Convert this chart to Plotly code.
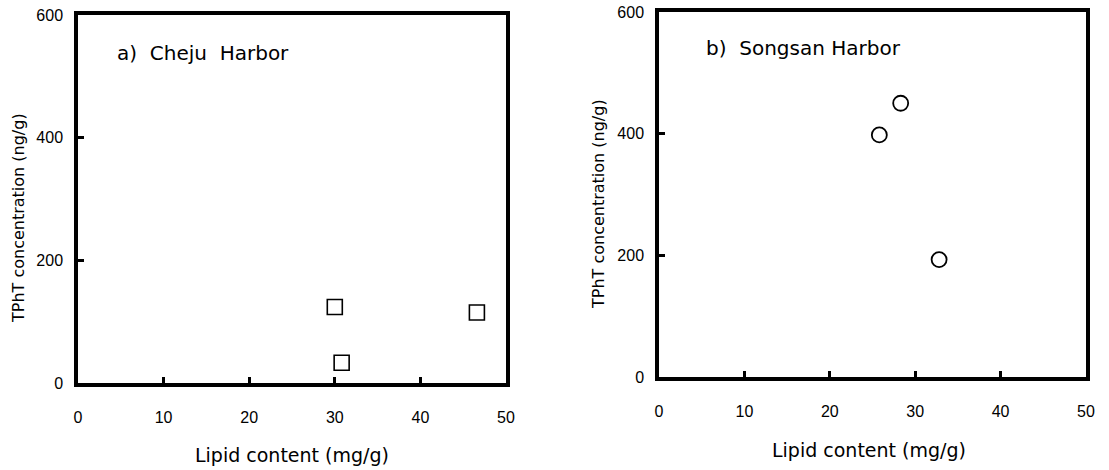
import plotly.graph_objects as go

# Data
cheju_lipid = [30.0, 30.8, 46.6]
cheju_tpht = [124, 33, 115]
songsan_lipid = [25.8, 28.3, 32.8]
songsan_tpht = [398, 450, 193]

x_ticks = [0, 10, 20, 30, 40, 50]
y_ticks = [0, 200, 400, 600]

W, H = 1109, 470
TICK_FONT = "Liberation Sans, Arial, sans-serif"
TEXT_FONT = "DejaVu Sans, Verdana, sans-serif"

def px(x):
    return x / W

def py(y):
    return 1 - y / H

fig = go.Figure()
fig.add_trace(go.Scatter(
    x=cheju_lipid, y=cheju_tpht, mode="markers", xaxis="x", yaxis="y",
    marker=dict(symbol="square-open", size=15, color="black", line=dict(width=1.6)),
    showlegend=False))
fig.add_trace(go.Scatter(
    x=songsan_lipid, y=songsan_tpht, mode="markers", xaxis="x2", yaxis="y2",
    marker=dict(symbol="circle-open", size=15, color="black", line=dict(width=1.8)),
    showlegend=False))

axis_common = dict(
    showline=True, linecolor="black", linewidth=3.5, mirror=True, automargin=False,
    showgrid=False, zeroline=False, ticks="inside", ticklen=6, tickwidth=3,
    tickcolor="black", tickfont=dict(family=TICK_FONT, size=16, color="black"),
    ticklabeloverflow="allow",
)

fig.update_layout(
    width=W, height=H,
    margin=dict(l=0, r=0, t=0, b=0),
    paper_bgcolor="white", plot_bgcolor="white",
    xaxis=dict(domain=[px(78), px(506)], range=[0, 50], tickvals=x_ticks,
               anchor="y", ticklabelstandoff=17, **axis_common),
    yaxis=dict(domain=[py(383), py(15)], range=[0, 600], tickvals=y_ticks,
               anchor="x", ticklabelstandoff=8, **axis_common),
    xaxis2=dict(domain=[px(659), px(1086)], range=[0, 50], tickvals=x_ticks,
                anchor="y2", ticklabelstandoff=17, **axis_common),
    yaxis2=dict(domain=[py(377), py(12)], range=[0, 600], tickvals=y_ticks,
                anchor="x2", ticklabelstandoff=8, **axis_common),
)

xtitle_font = dict(family=TEXT_FONT, size=19, color="black")
ytitle_font = dict(family=TEXT_FONT, size=16, color="black")
label_font = dict(family=TEXT_FONT, size=20, color="black")

annotations = [
    dict(text="Lipid content (mg/g)", x=px(292), y=py(455), xref="paper", yref="paper",
         showarrow=False, font=xtitle_font, xanchor="center", yanchor="middle"),
    dict(text="Lipid content (mg/g)", x=px(869), y=py(450), xref="paper", yref="paper",
         showarrow=False, font=xtitle_font, xanchor="center", yanchor="middle"),
    dict(text="TPhT concentration (ng/g)", x=px(18), y=py(218), xref="paper", yref="paper",
         showarrow=False, font=ytitle_font, textangle=-90, xanchor="center", yanchor="middle"),
    dict(text="TPhT concentration (ng/g)", x=px(599), y=py(204), xref="paper", yref="paper",
         showarrow=False, font=ytitle_font, textangle=-90, xanchor="center", yanchor="middle"),
    dict(text="a)  Cheju  Harbor", x=4.3, y=538, xref="x", yref="y",
         showarrow=False, font=label_font, xanchor="left", yanchor="middle"),
    dict(text="b)  Songsan Harbor", x=5.3, y=541, xref="x2", yref="y2",
         showarrow=False, font=label_font, xanchor="left", yanchor="middle"),
]
fig.update_layout(annotations=annotations)

# remove the default 8px page margin so the figure fills the window exactly
fig.write_html("out.html", config={"displayModeBar": False},
               post_script="document.body.style.margin='0';")
